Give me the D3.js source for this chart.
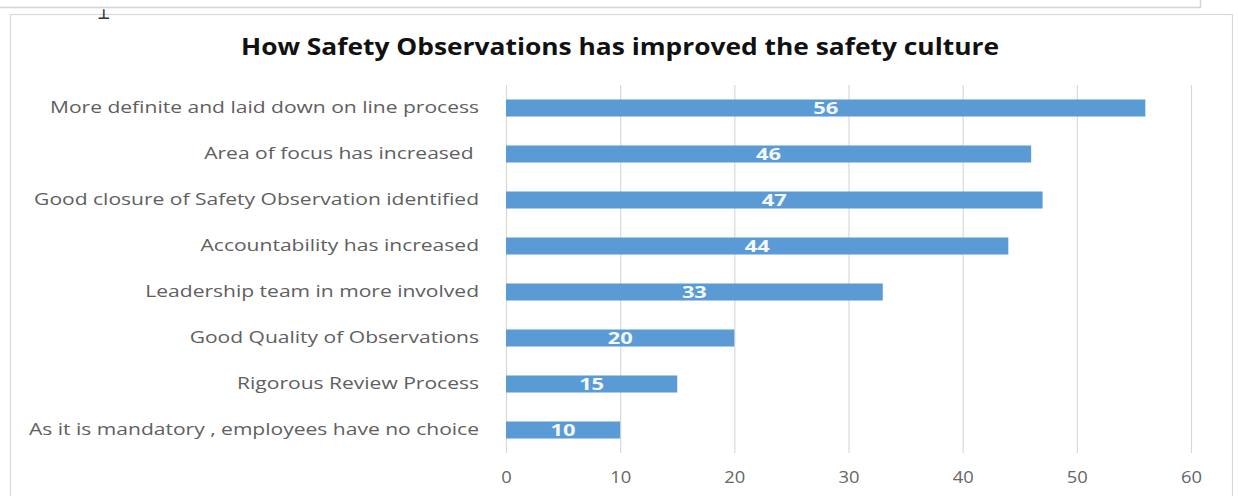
<!DOCTYPE html>
<html>
<head>
<meta charset="utf-8">
<script src="https://cdn.jsdelivr.net/npm/d3@7/dist/d3.min.js"></script>
<style>
  html, body { margin: 0; padding: 0; background: #fff; }
  svg { display: block; }
</style>
</head>
<body>
<svg id="chart" width="1238" height="496"></svg>
<script>
const categories = [
  "More definite and laid down on line process",
  "Area of focus has increased ",
  "Good closure of Safety Observation identified",
  "Accountability has increased",
  "Leadership team in more involved",
  "Good Quality of Observations",
  "Rigorous Review Process",
  "As it is mandatory , employees have no choice"
];
const values = [56, 46, 47, 44, 33, 20, 15, 10];
const xTicks = [0, 10, 20, 30, 40, 50, 60];
const title = "How Safety Observations has improved the safety culture";

const svg = d3.select("#chart");
const font = "'Open Sans', sans-serif";

// chart frame
svg.append("rect").attr("x", 10.5).attr("y", 14.5).attr("width", 1222).attr("height", 500)
  .attr("fill", "#fff").attr("stroke", "#d9d9d9").attr("stroke-width", 1.2);

// remnant of previous chart frame at the top
svg.append("path")
  .attr("d", "M0,7.5H1200.5V0")
  .attr("fill", "none").attr("stroke", "#d4d4d4").attr("stroke-width", 1.5);
svg.append("text").attr("x", 104).attr("y", 19).attr("text-anchor", "middle")
  .attr("font-size", 14).attr("font-weight", "bold").attr("fill", "#333")
  .attr("font-family", "DejaVu Sans").text("⊥");

const x = d3.scaleLinear().domain([0, 60]).range([506, 1191]);
const y = d3.scaleBand().domain(categories).range([85, 453]).paddingInner(0.63).paddingOuter(0.315);

// title
svg.append("text").attr("x", 620).attr("y", 55).attr("text-anchor", "middle")
  .attr("font-family", font).attr("font-weight", "bold").attr("font-size", 22.5)
  .attr("textLength", 758).attr("lengthAdjust", "spacingAndGlyphs")
  .attr("fill", "#111").text(title);

// gridlines
const grid = svg.append("g").attr("transform", "translate(0,453)")
  .call(d3.axisBottom(x).tickValues(xTicks).tickSize(-(453 - 85)).tickFormat(""));
grid.select(".domain").remove();
grid.selectAll(".tick line").attr("stroke", "#d9d9d9").attr("stroke-width", 1.2);

// x tick labels
const xa = svg.append("g").attr("transform", "translate(0,472)")
  .call(d3.axisBottom(x).tickValues(xTicks).tickSize(0).tickPadding(0));
xa.select(".domain").remove();
xa.selectAll("text").attr("font-family", font).attr("font-size", 15.5)
  .attr("textLength", function () { return this.textContent.length * 10.5; })
  .attr("lengthAdjust", "spacingAndGlyphs").attr("fill", "#666");

// bars
svg.append("g").selectAll("rect").data(values).join("rect")
  .attr("x", x(0)).attr("y", (d, i) => y(categories[i]))
  .attr("width", d => x(d) - x(0)).attr("height", y.bandwidth())
  .attr("fill", "#5b9bd5");

// value labels
svg.append("g").selectAll("text").data(values).join("text")
  .attr("x", d => (x(0) + x(d)) / 2)
  .attr("y", (d, i) => y(categories[i]) + y.bandwidth() / 2)
  .attr("dy", "0.37em").attr("text-anchor", "middle")
  .attr("font-family", font).attr("font-weight", "bold").attr("font-size", 15.5)
  .attr("textLength", d => String(d).length * 12.5).attr("lengthAdjust", "spacingAndGlyphs")
  .attr("fill", "#f4f9ff").text(d => d);

// category labels
const ya = svg.append("g").attr("transform", "translate(479,0)")
  .call(d3.axisLeft(y).tickSize(0).tickPadding(0));
ya.select(".domain").remove();
const labels = ya.selectAll("text").attr("font-family", font).attr("font-size", 16)
  .attr("fill", "#606060").attr("xml:space", "preserve").style("white-space", "pre");
let maxW = 0;
labels.each(function () { maxW = Math.max(maxW, this.getComputedTextLength()); });
const k = 450 / maxW;
labels.each(function () {
  d3.select(this).attr("textLength", this.getComputedTextLength() * k)
    .attr("lengthAdjust", "spacingAndGlyphs");
});
</script>
</body>
</html>
